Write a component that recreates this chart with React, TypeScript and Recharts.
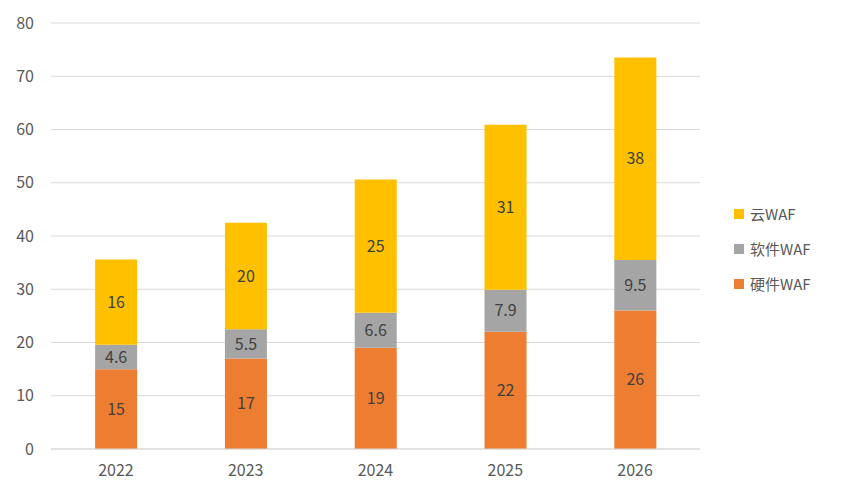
import React from 'react';
import { BarChart, Bar, XAxis, YAxis, CartesianGrid, LabelList } from 'recharts';

const years = ['2022', '2023', '2024', '2025', '2026'];
const hardware = [15, 17, 19, 22, 26];
const software = [4.6, 5.5, 6.6, 7.9, 9.5];
const cloud = [16, 20, 25, 31, 38];
const yTicks = [0, 10, 20, 30, 40, 50, 60, 70, 80];

const data = years.map((year, i) => ({
  year,
  hardware: hardware[i],
  software: software[i],
  cloud: cloud[i],
}));

const series = [
  { key: 'hardware', name: '硬件WAF', color: '#ED7D31' },
  { key: 'software', name: '软件WAF', color: '#A5A5A5' },
  { key: 'cloud', name: '云WAF', color: '#FFC000' },
];

const FONT = '"Noto Sans CJK SC", "Noto Sans", sans-serif';

export default function App() {
  return (
    <div
      style={{
        width: 844,
        height: 499,
        margin: -8,
        border: '1px solid #d9d9d9',
        boxSizing: 'border-box',
        background: '#fff',
        position: 'relative',
      }}
    >
      <BarChart
        width={842}
        height={497}
        data={data}
        margin={{ top: 22, right: 143, left: 0, bottom: 19 }}
        barCategoryGap="34%"
      >
        <CartesianGrid vertical={false} stroke="#d9d9d9" />
        <XAxis
          dataKey="year"
          axisLine={{ stroke: '#d9d9d9' }}
          tickLine={false}
          tickMargin={10}
          height={30}
          tick={{ fontSize: 16, fill: '#595959', fontFamily: FONT }}
        />
        <YAxis
          domain={[0, 80]}
          ticks={yTicks}
          width={50}
          axisLine={false}
          tickLine={false}
          tickMargin={11}
          tick={{ fontSize: 16, fill: '#595959', fontFamily: FONT }}
        />
        {series.map((s) => (
          <Bar key={s.key} dataKey={s.key} name={s.name} stackId="a" fill={s.color} isAnimationActive={false}>
            <LabelList dataKey={s.key} position="center" fill="#404040" fontSize={16} fontFamily={FONT} />
          </Bar>
        ))}
      </BarChart>
      <div style={{ position: 'absolute', left: 733, top: 195, fontFamily: FONT }}>
        {[...series].reverse().map((s) => (
          <div
            key={s.key}
            style={{ display: 'flex', alignItems: 'center', height: 35, fontSize: 15, color: '#595959' }}
          >
            <span style={{ width: 10, height: 10, background: s.color, marginRight: 6, display: 'inline-block' }} />
            {s.name}
          </div>
        ))}
      </div>
    </div>
  );
}
